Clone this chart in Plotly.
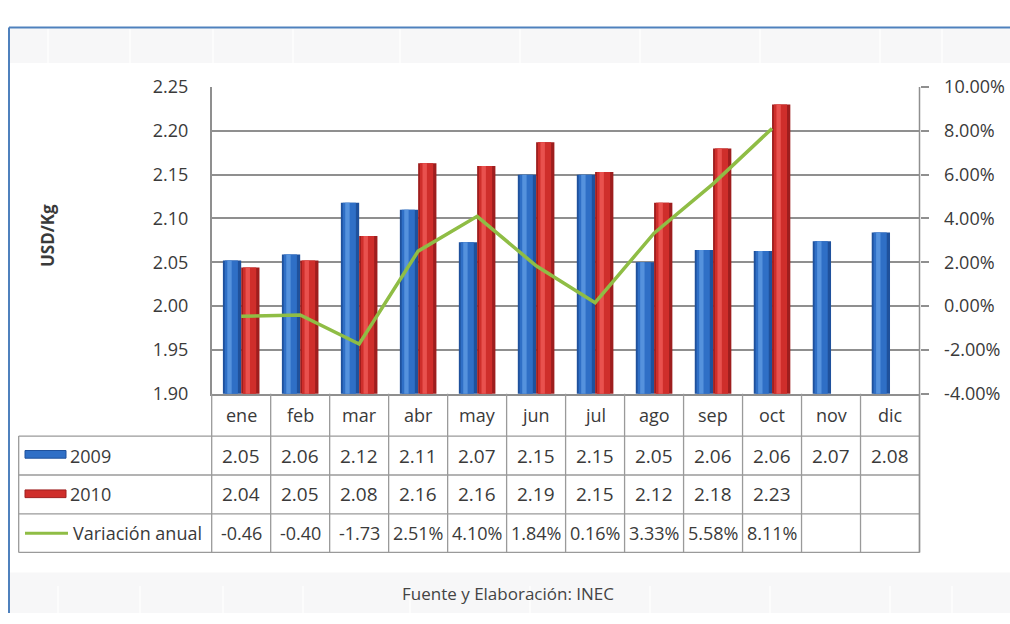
import plotly.graph_objects as go

# Monthly price data (USD/Kg) and annual variation (%)
meses = ["ene", "feb", "mar", "abr", "may", "jun", "jul", "ago", "sep", "oct", "nov", "dic"]
precio_2009 = [2.052, 2.059, 2.118, 2.110, 2.073, 2.150, 2.150, 2.050, 2.064, 2.063, 2.074, 2.084]
precio_2010 = [2.044, 2.052, 2.080, 2.163, 2.160, 2.187, 2.153, 2.118, 2.180, 2.230]
variacion = [-0.46, -0.40, -1.73, 2.51, 4.10, 1.84, 0.16, 3.33, 5.58, 8.11]
eje_pct = [-4, -2, 0, 2, 4, 6, 8, 10]

# Table text for each row
txt_2009 = [f"{v:.2f}" for v in precio_2009]
txt_2010 = [f"{v:.2f}" for v in precio_2010]
txt_var = [f"{v:.2f}" if v < 0 else f"{v:.2f}%" for v in variacion]

W, H = 1010, 624
X0, X1 = 211.7, 919.5          # plot / table column span (px)
Y_TOP, Y_BOT = 77, 396         # plot area top / bottom (px)
ROWS = [396, 440, 480.5, 521, 561]
LEG_X = 18.7
FONT = "Open Sans"
TXT = "#3a3a3a"
GRID = "#8f8f8f"

def px(x):
    return x / W

def py(y):
    return 1 - y / H

n = len(meses)
col_w = (X1 - X0) / n

fig = go.Figure()

# Cylinder-like bars: dark body, lighter body, bright highlight strip
def add_cylinder(values, side, colors):
    idx = list(range(len(values)))
    bw = 0.31
    start = -bw if side == "left" else 0.0
    layers = [
        (0.0, 1.0, colors[0]),
        (0.10, 0.72, colors[1]),
        (0.24, 0.24, colors[2]),
    ]
    for off, wf, col in layers:
        fig.add_trace(go.Bar(
            x=idx, y=values,
            offset=start + off * bw, width=wf * bw,
            marker=dict(color=col, line=dict(width=0)),
            showlegend=False, hoverinfo="skip",
        ))

add_cylinder(precio_2009, "left", ["#1f519c", "#2f6fc6", "#5592dd"])
add_cylinder(precio_2010, "right", ["#9e1e1e", "#cf2e2b", "#e9514e"])

# Annual variation line on the secondary axis
fig.add_trace(go.Scatter(
    x=list(range(len(variacion))), y=variacion, yaxis="y2",
    mode="lines", line=dict(color="#8fbd45", width=3.5),
    showlegend=False, hoverinfo="skip",
))

shapes = []
# Page frame and faint tiled bands
BAND = "#f7f7f8"
shapes.append(dict(type="rect", xref="paper", yref="paper", x0=px(9), x1=1.0,
                   y0=py(16), y1=py(52), fillcolor=BAND, line=dict(width=0), layer="below"))
shapes.append(dict(type="rect", xref="paper", yref="paper", x0=px(9), x1=1.0,
                   y0=py(582), y1=0, fillcolor=BAND, line=dict(width=0), layer="below"))
for xs in [48, 130, 213, 293, 400, 520, 640, 760, 880, 942]:
    shapes.append(dict(type="line", xref="paper", yref="paper", x0=px(xs), x1=px(xs),
                       y0=py(17), y1=py(52), line=dict(color="#fcfcfc", width=2), layer="below"))
    shapes.append(dict(type="line", xref="paper", yref="paper", x0=px(xs + 10), x1=px(xs + 10),
                       y0=py(596), y1=0, line=dict(color="#fcfcfc", width=2), layer="below"))
shapes.append(dict(type="line", xref="paper", yref="paper", x0=px(9), x1=1.0,
                   y0=py(15), y1=py(15), line=dict(color="#4f81bd", width=2)))
shapes.append(dict(type="line", xref="paper", yref="paper", x0=px(9), x1=px(9),
                   y0=py(15), y1=0, line=dict(color="#4f81bd", width=2)))

# Data table grid
TL = dict(color="#9a9a9a", width=1.3)
for y in ROWS[1:]:
    shapes.append(dict(type="line", xref="paper", yref="paper", x0=px(LEG_X), x1=px(X1),
                       y0=py(y), y1=py(y), line=TL))
for k in range(n + 1):
    x = X0 + k * col_w
    shapes.append(dict(type="line", xref="paper", yref="paper", x0=px(x), x1=px(x),
                       y0=py(ROWS[0]), y1=py(ROWS[-1]), line=TL))
shapes.append(dict(type="line", xref="paper", yref="paper", x0=px(LEG_X), x1=px(LEG_X),
                   y0=py(ROWS[1]), y1=py(ROWS[-1]), line=TL))
shapes.append(dict(type="line", xref="paper", yref="paper", x0=px(X1), x1=px(X1),
                   y0=py(Y_TOP), y1=py(ROWS[-1]), line=dict(color=GRID, width=1.5)))

# Legend keys inside the table
shapes.append(dict(type="rect", xref="paper", yref="paper", x0=px(25), x1=px(66),
                   y0=py(463), y1=py(455), fillcolor="#2f6fc6", line=dict(color="#1f519c", width=1)))
shapes.append(dict(type="rect", xref="paper", yref="paper", x0=px(25), x1=px(66),
                   y0=py(504), y1=py(496), fillcolor="#cf2e2b", line=dict(color="#9e1e1e", width=1)))
shapes.append(dict(type="line", xref="paper", yref="paper", x0=px(25), x1=px(68),
                   y0=py(541), y1=py(541), line=dict(color="#8fbd45", width=3)))

ann = []
row_mid = [(ROWS[i] + ROWS[i + 1]) / 2 for i in range(4)]
rows_txt = [meses, txt_2009, txt_2010, txt_var]
for r, vals in enumerate(rows_txt):
    for k, t in enumerate(vals):
        ann.append(dict(xref="paper", yref="paper", x=px(X0 + (k + 0.5) * col_w), y=py(row_mid[r]),
                        text=t, showarrow=False, xanchor="center", yanchor="middle",
                        font=dict(family=FONT, size=18 if r == 0 else (18 if r == 3 else 19), color=TXT)))
for r, lab in [(1, "2009"), (2, "2010"), (3, "Variación anual")]:
    ann.append(dict(xref="paper", yref="paper", x=px(68 if r < 3 else 71), y=py(row_mid[r]),
                    text=lab, showarrow=False, xanchor="left", yanchor="middle",
                    font=dict(family=FONT, size=18, color=TXT)))

ann.append(dict(xref="paper", yref="paper", x=px(47), y=py(232), text="<b>USD/Kg</b>",
                textangle=-90, showarrow=False, xanchor="center", yanchor="middle",
                font=dict(family=FONT, size=17, color=TXT)))
ann.append(dict(xref="paper", yref="paper", x=px(508), y=py(604), text="Fuente y Elaboración: INEC",
                showarrow=False, xanchor="center", yanchor="middle",
                font=dict(family=FONT, size=17, color="#444444")))

fig.update_layout(
    width=W, height=H,
    margin=dict(l=0, r=0, t=0, b=0),
    paper_bgcolor="white", plot_bgcolor="white",
    barmode="overlay",
    showlegend=False,
    shapes=shapes, annotations=ann,
    xaxis=dict(domain=[px(X0), px(X1)], range=[-0.5, n - 0.5],
               showticklabels=False, showgrid=False, zeroline=False,
               showline=True, linecolor=GRID, linewidth=1.5, ticks=""),
    yaxis=dict(domain=[py(Y_BOT), py(Y_TOP)], range=[1.90, 2.25], dtick=0.05,
               tickformat=".2f", showgrid=True, gridcolor=GRID, gridwidth=1.5,
               zeroline=False, showline=True, linecolor=GRID, linewidth=1.5,
               ticks="", ticklabelstandoff=18,
               tickfont=dict(family=FONT, size=18, color=TXT)),
    yaxis2=dict(overlaying="y", side="right", range=[-4, 10],
                tickvals=eje_pct, ticktext=[f"{v:.2f}%" for v in eje_pct],
                showgrid=False, zeroline=False,
                showline=False, ticks="outside", ticklen=8, tickcolor=GRID, tickwidth=1.5,
                ticklabelstandoff=12,
                tickfont=dict(family=FONT, size=18, color=TXT)),
)

fig.write_html("out.html")
